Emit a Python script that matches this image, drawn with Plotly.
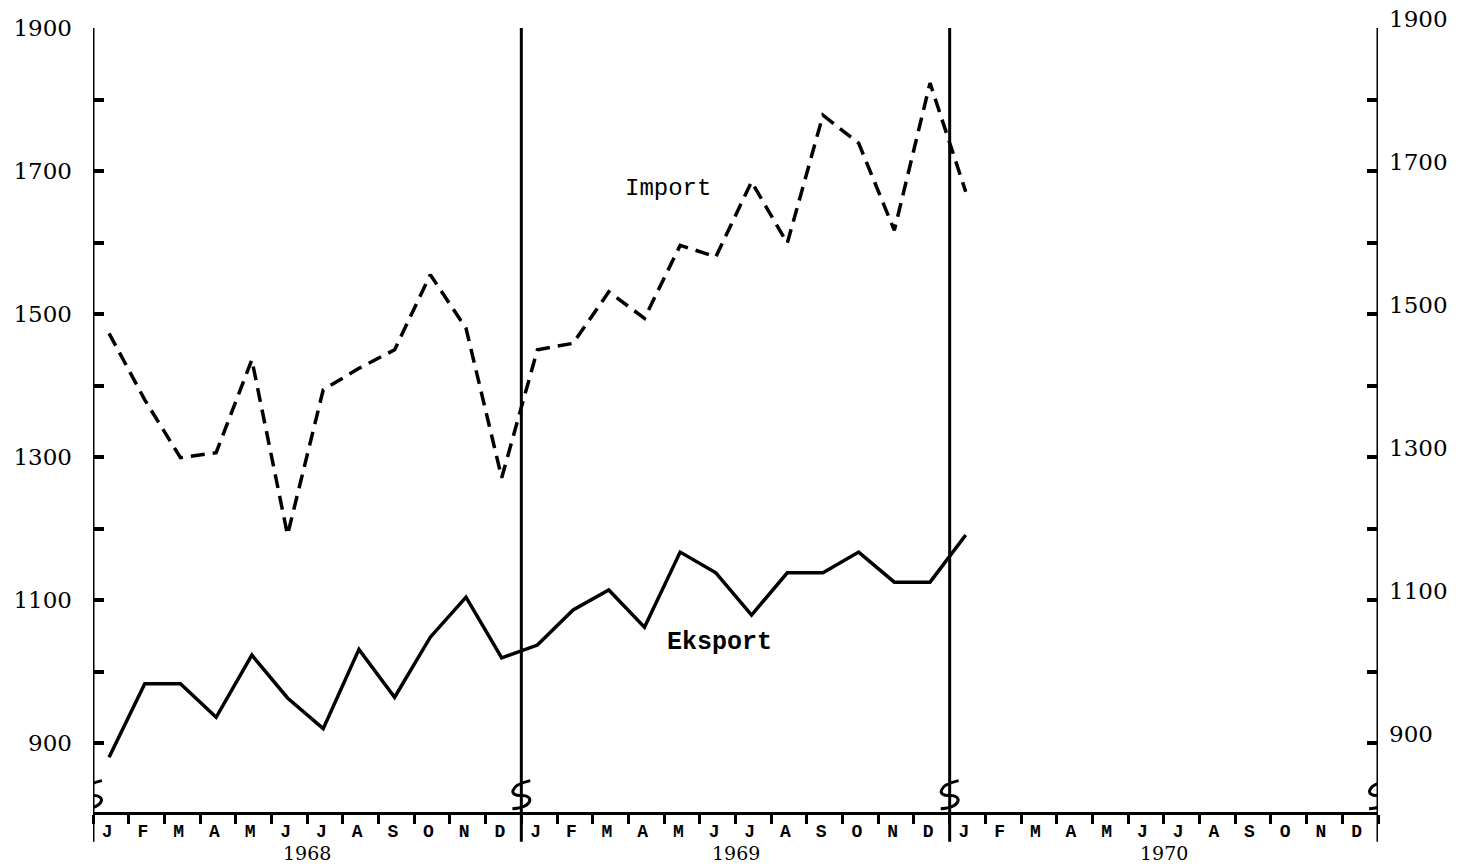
import plotly.graph_objects as go

months = ["J", "F", "M", "A", "M", "J", "J", "A", "S", "O", "N", "D"]
years = ["1968", "1969", "1970"]
import_vals = [1473, 1380, 1299, 1306, 1436, 1191, 1394, 1424, 1450, 1555, 1480, 1271,
               1450, 1459, 1531, 1494, 1596, 1580, 1685, 1599, 1778, 1739, 1617, 1823,
               1671]
export_vals = [880, 983, 983, 936, 1023, 963, 920, 1031, 964, 1048, 1104, 1019,
               1037, 1086, 1114, 1062, 1167, 1138, 1079, 1138, 1138, 1167, 1125, 1125,
               1191]
ytick_vals = list(range(900, 2000, 100))
ytick_text = [str(v) if (v // 100) % 2 == 1 else "" for v in ytick_vals]

n_months = 12 * len(years)
xs = [i + 0.45 for i in range(len(import_vals))]

fig = go.Figure()
fig.add_trace(go.Scatter(x=xs, y=import_vals, mode="lines",
                         line=dict(color="black", width=3.5, dash="14px,8px"),
                         showlegend=False))
fig.add_trace(go.Scatter(x=xs, y=export_vals, mode="lines",
                         line=dict(color="black", width=3.5),
                         showlegend=False))
# dummy trace for right axis
fig.add_trace(go.Scatter(x=[None], y=[None], yaxis="y2", showlegend=False))

ymin, ymax = 803.5, 1900

fig.update_layout(
    width=1465, height=867,
    margin=dict(l=93, r=87, t=28, b=55, autoexpand=False),
    paper_bgcolor="white", plot_bgcolor="white",
    xaxis=dict(range=[0, n_months], showgrid=False, zeroline=False, automargin=False,
               showline=True, linecolor="black", linewidth=3,
               tickmode="array",
               tickvals=[i + 0.4 for i in range(n_months)],
               ticktext=months * len(years),
               ticks="", ticklabelstandoff=0,
               tickfont=dict(family="Liberation Mono", size=18, color="black", weight="bold"),
               minor=dict(tickmode="array", tickvals=list(range(n_months + 1)),
                          ticks="outside", ticklen=9, tickwidth=2.5, tickcolor="black")),
    yaxis=dict(range=[ymin, ymax], showgrid=False, zeroline=False, showline=False,
               automargin=False,
               tickmode="array", tickvals=ytick_vals, ticktext=ytick_text,
               ticks="inside", ticklen=11, tickwidth=3.5, tickcolor="black",
               ticklabelstandoff=20,
               tickfont=dict(family="DejaVu Serif", size=23, color="black")),
    yaxis2=dict(range=[ymin, ymax], overlaying="y", side="right", showgrid=False,
                zeroline=False, showline=False, automargin=False,
                tickmode="array", tickvals=ytick_vals, ticktext=ytick_text,
                ticks="inside", ticklen=11, tickwidth=3.5, tickcolor="black",
                ticklabelstandoff=10, ticklabelshift=-9,
                tickfont=dict(family="DejaVu Serif", size=23, color="black")),
)

shapes = []
for k in range(len(years) + 1):
    x = 12 * k
    shapes.append(dict(type="line", xref="x", yref="paper", x0=x, x1=x,
                       y0=-0.038, y1=1.0, line=dict(color="black", width=3)))
    path = (f"M {x+0.25},0.040 C {x-0.35},0.034 {x-0.35},0.020 {x},0.021 "
            f"C {x+0.35},0.022 {x+0.35},0.006 {x-0.25},0.004")
    shapes.append(dict(type="path", xref="x", yref="paper", path=path,
                       line=dict(color="black", width=3)))
fig.update_layout(shapes=shapes)

for k, yr in enumerate(years):
    fig.add_annotation(x=12 * k + 6, y=-0.068, xref="x", yref="paper", text=yr,
                       showarrow=False, yanchor="bottom", borderpad=0,
                       font=dict(family="DejaVu Serif", size=19, color="black"))

fig.add_annotation(x=16.1, y=1676, xref="x", yref="y", text="Import", showarrow=False,
                   font=dict(family="Liberation Mono", size=24, color="black"))
fig.add_annotation(x=17.55, y=1040, xref="x", yref="y", text="Eksport", showarrow=False,
                   font=dict(family="Liberation Mono", size=25, color="black", weight="bold"))

fig.write_html("out.html", config={"displayModeBar": False},
               post_script="document.body.style.margin='0';")
